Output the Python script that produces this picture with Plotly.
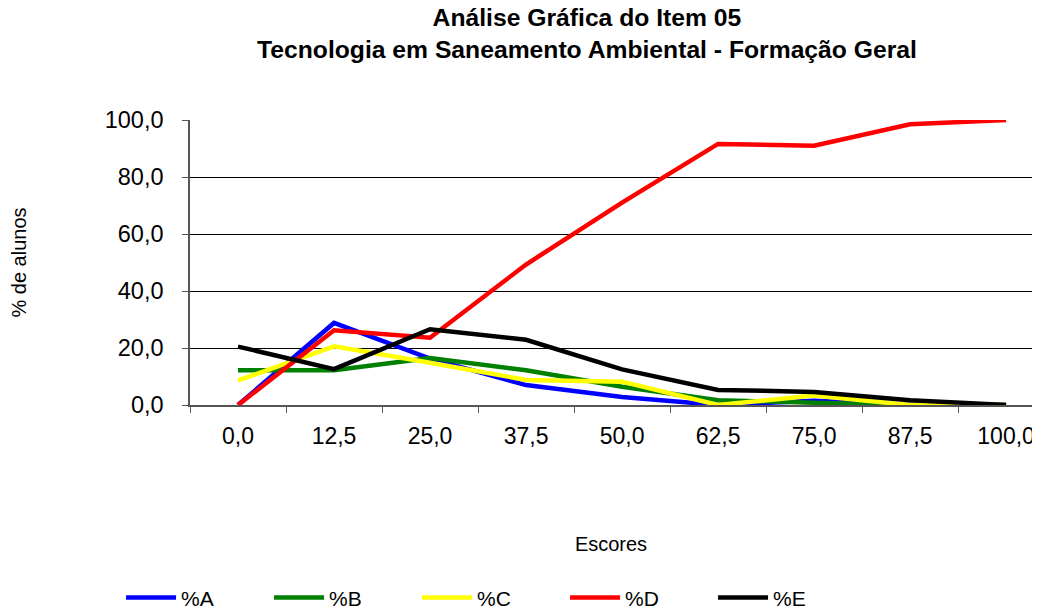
"""Análise gráfica do item 05 - percentual de alunos por escore."""
import plotly.graph_objects as go

escores = ["0,0", "12,5", "25,0", "37,5", "50,0", "62,5", "75,0", "87,5", "100,0"]

pct_a = [0.0, 28.8, 16.3, 7.0, 2.8, 0.0, 1.5, 0.0, 0.0]
pct_b = [12.2, 12.2, 16.5, 12.2, 6.4, 1.7, 0.8, 0.0, 0.0]
pct_c = [8.6, 20.6, 14.8, 8.8, 8.2, 0.0, 3.3, 0.0, 0.0]
pct_d = [0.0, 26.2, 23.6, 49.3, 71.0, 91.6, 91.0, 98.5, 100.0]
pct_e = [20.5, 12.6, 26.6, 22.9, 12.5, 5.3, 4.6, 1.7, 0.0]

series = [
    ("%A", pct_a, "#0000ff"),
    ("%B", pct_b, "#008000"),
    ("%C", pct_c, "#ffff00"),
    ("%D", pct_d, "#ff0000"),
    ("%E", pct_e, "#000000"),
]

fig = go.Figure()
for name, vals, color in series:
    fig.add_trace(
        go.Scatter(
            x=escores, y=vals, mode="lines", name=name,
            line=dict(color=color, width=4.5),
        )
    )

# page body adds an 8px offset, margins compensate for it
font = "Arial, Liberation Sans, sans-serif"
fig.update_layout(
    width=1040, height=612,
    paper_bgcolor="white", plot_bgcolor="white",
    margin=dict(l=182, r=16, t=112, b=215),
    font=dict(family=font, color="black"),
    title=dict(
        text="Análise Gráfica do Item 05<br>Tecnologia em Saneamento Ambiental - Formação Geral",
        font=dict(size=24.7, family=font, color="black", weight="bold"),
        x=0.5567, xref="container", xanchor="center",
        y=0.970, yref="container", yanchor="top",
    ),
    xaxis=dict(
        type="category", range=[-0.5, 8.27], automargin=False,
        tickson="boundaries", ticks="outside", ticklen=6, tickcolor="#555",
        showline=True, linecolor="#555", linewidth=1.5,
        showgrid=False, tickfont=dict(size=23), ticklabelstandoff=10,
        title=dict(text="Escores", font=dict(size=20), standoff=89),
    ),
    yaxis=dict(
        range=[0, 100], dtick=20, tickformat=".1f", automargin=False,
        ticks="outside", ticklen=6, tickcolor="#555",
        showline=True, linecolor="#555", linewidth=1.5,
        showgrid=True, gridcolor="black", gridwidth=1,
        zeroline=False, tickfont=dict(size=23.5), ticklabelstandoff=14,
        title=dict(text="% de alunos", font=dict(size=20), standoff=74),
    ),
    separators=",.",
    showlegend=True,
    legend=dict(
        orientation="h", xref="container", yref="container",
        x=0.1087, xanchor="left", y=0.036, yanchor="middle",
        font=dict(size=21), entrywidth=83, entrywidthmode="pixels",
        itemwidth=50, bgcolor="rgba(0,0,0,0)",
    ),
)

fig.write_html("out.html")
